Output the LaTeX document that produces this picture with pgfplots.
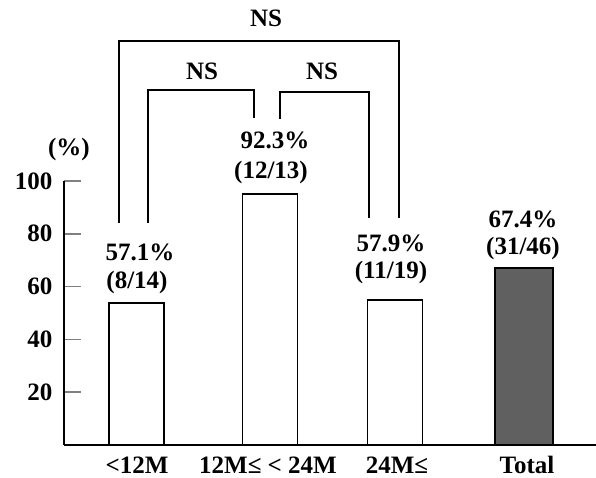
\documentclass[border=0pt]{standalone}
\usepackage{fontspec}
\setmainfont{Liberation Serif}
\usepackage{pgfplots}
\pgfplotsset{compat=1.18}
\newcommand\F{\fontsize{25}{29}\selectfont\bfseries}
\definecolor{totgray}{RGB}{96,96,96}
\begin{document}
\begin{tikzpicture}
\useasboundingbox (-64pt,-32pt) rectangle (532pt,445pt);
\begin{axis}[
  at={(0,0)}, anchor=south west,
  scale only axis, width=532pt, height=264pt,
  xmin=64, xmax=596, ymin=0, ymax=100,
  axis x line=bottom, axis y line=left,
  axis line style={-, line width=1.6pt},
  ytick={20,40,60,80,100},
  xtick={137,268,397,527},
  xticklabels={{<12M},{12M≤ < 24M},{24M≤},{Total}},
  xticklabel style={anchor=base, yshift=-28pt},
  x tick style={draw=none},
  y tick style={line width=1.6pt},
  tick align=inside, major tick length=17pt,
  yticklabel style={xshift=-8pt},
  tick label style={font=\F},
  /pgf/number format/assume math mode=true,
  clip=false,
]
\addplot[ybar, bar shift=0pt, bar width=55, fill=white, draw=black, line width=1.4pt]
  coordinates {(136.5,53.8) (270,95.1) (395,54.9)};
\addplot[ybar, bar shift=0pt, bar width=58, fill=totgray, draw=black, line width=1.4pt]
  coordinates {(524,67.0)};
% significance brackets
\draw[line width=1.4pt] (axis cs:119,84.1) -- (axis cs:119,153.0) -- (axis cs:399,153.0) -- (axis cs:399,86.0);
\draw[line width=1.4pt] (axis cs:148,84.1) -- (axis cs:148,134.5) -- (axis cs:254,134.5) -- (axis cs:254,123.9);
\draw[line width=1.4pt] (axis cs:280,123.5) -- (axis cs:280,133.7) -- (axis cs:369,133.7) -- (axis cs:369,86.0);
\node[font=\F] at (axis cs:266,161.7) {NS};
\node[font=\F] at (axis cs:202,141.7) {NS};
\node[font=\F] at (axis cs:322,141.7) {NS};
% value labels
\node[font=\F] at (axis cs:140,73.1) {57.1\%};
\node[font=\F] at (axis cs:137,61.7) {(8/14)};
\node[font=\F] at (axis cs:275,115.5) {92.3\%};
\node[font=\F] at (axis cs:271,103.4) {(12/13)};
\node[font=\F] at (axis cs:391,76.5) {57.9\%};
\node[font=\F] at (axis cs:391,65.2) {(11/19)};
\node[font=\F] at (axis cs:523,85.6) {67.4\%};
\node[font=\F] at (axis cs:523,74.6) {(31/46)};
\node[font=\F] at (axis cs:69,112.1) {(\%)};
\end{axis}
\end{tikzpicture}
\end{document}
